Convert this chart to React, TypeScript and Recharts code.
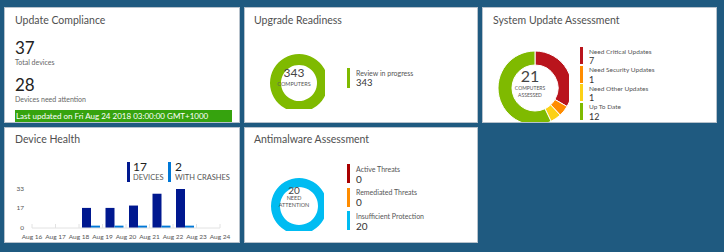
import React from 'react';
import { Bar, BarChart, Cell, Pie, PieChart, XAxis, YAxis } from 'recharts';

// Device Health
const healthDays = ['Aug 16', 'Aug 17', 'Aug 18', 'Aug 19', 'Aug 20', 'Aug 21', 'Aug 22', 'Aug 23'];
const healthEdgeLabel = 'Aug 24';
const devicesByDay = [0, 0, 17, 17, 19, 29, 33, 0];
const crashesByDay = [0, 0, 2, 2, 2, 2, 2, 0];
const healthTicks = [0, 17, 33];
const healthTotals = [17, 2];
const healthTotalLabels = ['DEVICES', 'WITH CRASHES'];

// Upgrade Readiness
const readinessLabels = ['Review in progress'];
const readinessValues = [343];

// System Update Assessment
const updateLabels = ['Need Critical Updates', 'Need Security Updates', 'Need Other Updates', 'Up To Date'];
const updateValues = [7, 1, 1, 12];

// Antimalware Assessment
const malwareLabels = ['Active Threats', 'Remediated Threats', 'Insufficient Protection'];
const malwareValues = [0, 0, 20];

const FONT = "'Segoe UI', Lato, sans-serif";
const BG = '#1f5a80';
const readinessColors = ['#7fba00'];
const updateColors = ['#b9141c', '#ff8c00', '#fcd116', '#7fba00'];
const malwareColors = ['#a80000', '#ff8c00', '#00bcf2'];
const healthColors = ['#00188f', '#0078d7'];

const healthData = healthDays.map((day, i) => ({ day, devices: devicesByDay[i], crashes: crashesByDay[i] }));

const PLOT_W = 188;
const BAND = PLOT_W / healthDays.length;

const Txt = ({ x, y, size, color = '#555', center, weight, children }: any) => (
    <div
        style={{
            position: 'absolute',
            left: center ? x - 60 : x,
            width: center ? 120 : undefined,
            textAlign: center ? 'center' : 'left',
            top: y - size * 0.55,
            fontSize: size,
            lineHeight: 1,
            color,
            fontWeight: weight || 400,
            whiteSpace: 'nowrap',
        }}
    >
        {children}
    </div>
);

const Tile = ({ x, y, w, h }: any) => (
    <div
        style={{
            position: 'absolute',
            left: x,
            top: y,
            width: w,
            height: h,
            background: '#fff',
            border: '1px solid #b7c2cc',
            boxSizing: 'border-box',
        }}
    />
);

const Donut = ({ cx, cy, r, inner, labels, values, colors, stroke }: any) => {
    const data = labels.map((name: string, i: number) => ({ name, value: values[i] }));
    const size = r * 2 + 4;
    return (
        <div style={{ position: 'absolute', left: cx - size / 2, top: cy - size / 2 }}>
            <PieChart width={size} height={size}>
                <Pie
                    data={data}
                    dataKey="value"
                    cx={size / 2}
                    cy={size / 2}
                    innerRadius={inner}
                    outerRadius={r}
                    startAngle={90}
                    endAngle={-270}
                    stroke={stroke}
                    strokeWidth={1}
                    isAnimationActive={false}
                >
                    {data.map((d: any, i: number) => (
                        <Cell key={d.name} fill={colors[i]} />
                    ))}
                </Pie>
            </PieChart>
        </div>
    );
};

const LegendRows = ({ x, top, step, h, labels, values, colors, labelSize, valueSize }: any) => (
    <>
        {labels.map((label: string, i: number) => {
            const t = top + i * step;
            const ly = t + labelSize * 0.8;
            const vy = ly + labelSize * 0.45 + valueSize * 0.6 + 0.5;
            return (
                <React.Fragment key={label}>
                    <div style={{ position: 'absolute', left: x, top: t, width: 3, height: h, background: colors[i] }} />
                    <Txt x={x + 9} y={ly} size={labelSize} color="#555">{label}</Txt>
                    <Txt x={x + 9} y={vy} size={valueSize} color="#333">{values[i]}</Txt>
                </React.Fragment>
            );
        })}
    </>
);

const DayTick = ({ x, y, index }: any) => {
    const left = x - BAND / 2;
    const marks = [{ px: left, label: healthDays[index] }];
    if (index === healthDays.length - 1) marks.push({ px: left + BAND, label: healthEdgeLabel });
    return (
        <g>
            {marks.map((m) => (
                <g key={m.label}>
                    <line x1={m.px} x2={m.px} y1={y} y2={y - 4} stroke="#e2e2e2" />
                    <text x={m.px} y={y + 9} textAnchor="middle" dominantBaseline="middle" fontSize={6.5} fill="#555" fontFamily={FONT}>
                        {m.label}
                    </text>
                </g>
            ))}
        </g>
    );
};

export default function App() {
    return (
        <div style={{ position: 'absolute', left: 0, top: 0, width: 724, height: 252, background: BG, fontFamily: FONT, overflow: 'hidden' }}>
            <Tile x={4} y={7} w={236} h={116} />
            <Tile x={244} y={7} w={234} h={116} />
            <Tile x={482} y={7} w={235} h={116} />
            <Tile x={4} y={127} w={236} h={116} />
            <Tile x={244} y={127} w={234} h={116} />

            {/* Update Compliance */}
            <Txt x={15} y={21} size={10.5} color="#505050">Update Compliance</Txt>
            <Txt x={15} y={48.5} size={17} color="#222">37</Txt>
            <Txt x={15} y={62.5} size={7} color="#666">Total devices</Txt>
            <Txt x={15} y={85.5} size={17} color="#222">28</Txt>
            <Txt x={15} y={99.5} size={7} color="#666">Devices need attention</Txt>
            <div style={{ position: 'absolute', left: 15, top: 110, width: 217, height: 12, background: '#36a30e', color: '#fff', fontSize: 8, lineHeight: '12px', paddingLeft: 1, boxSizing: 'border-box', whiteSpace: 'nowrap' }}>
                Last updated on Fri Aug 24 2018 03:00:00 GMT+1000
            </div>

            {/* Upgrade Readiness */}
            <Txt x={254} y={21} size={10.5} color="#505050">Upgrade Readiness</Txt>
            <Donut cx={294} cy={78} r={29} inner={18} labels={readinessLabels} values={readinessValues} colors={readinessColors} stroke="none" />
            <Txt x={294} y={74} size={12} color="#444" center>{readinessValues[0]}</Txt>
            <Txt x={294} y={85.5} size={5.5} color="#555" center>COMPUTERS</Txt>
            <LegendRows x={347} top={68} step={20} h={20} labels={readinessLabels} values={readinessValues} colors={readinessColors} labelSize={7} valueSize={9.5} />

            {/* System Update Assessment */}
            <Txt x={493} y={21} size={10.5} color="#505050">System Update Assessment</Txt>
            <Donut cx={530} cy={83} r={37} inner={23} labels={updateLabels} values={updateValues} colors={updateColors} stroke="#fff" />
            <Txt x={530} y={77} size={16} color="#444" center>{updateValues.reduce((a, b) => a + b, 0)}</Txt>
            <Txt x={530} y={89} size={5} color="#555" center>COMPUTERS</Txt>
            <Txt x={530} y={96} size={5} color="#555" center>ASSESSED</Txt>
            <LegendRows x={580} top={47} step={18.5} h={17} labels={updateLabels} values={updateValues} colors={updateColors} labelSize={6.5} valueSize={9} />

            {/* Device Health */}
            <Txt x={15} y={140} size={10.5} color="#505050">Device Health</Txt>
            {healthTotals.map((v, i) => (
                <React.Fragment key={healthTotalLabels[i]}>
                    <div style={{ position: 'absolute', left: 127 + i * 41, top: 162, width: 3, height: 20, background: healthColors[i] }} />
                    <Txt x={133 + i * 42} y={168} size={12} color="#222">{v}</Txt>
                    <Txt x={133 + i * 42} y={178} size={7.5} color="#555">{healthTotalLabels[i]}</Txt>
                </React.Fragment>
            ))}
            <div style={{ position: 'absolute', left: 4, top: 177 }}>
                <BarChart width={236} height={66} data={healthData} margin={{ top: 12, right: 20, bottom: 0, left: 0 }} barCategoryGap={3} barGap={0}>
                    <XAxis dataKey="day" interval={0} height={15} tickSize={0} tickMargin={0} tickLine={false} axisLine={{ stroke: '#e2e2e2' }} tick={<DayTick />} />
                    <YAxis width={28} domain={[0, 33]} ticks={healthTicks} axisLine={false} tickLine={false} tick={{ fontSize: 6.5, fill: '#555', fontFamily: FONT }} />
                    <Bar dataKey="devices" fill={healthColors[0]} isAnimationActive={false} />
                    <Bar dataKey="crashes" fill={healthColors[1]} isAnimationActive={false} />
                </BarChart>
            </div>

            {/* Antimalware Assessment */}
            <Txt x={254} y={140} size={10.5} color="#505050">Antimalware Assessment</Txt>
            <Donut cx={294} cy={201} r={28} inner={19} labels={malwareLabels} values={malwareValues} colors={malwareColors} stroke="none" />
            <Txt x={294} y={190} size={10} color="#444" center>{malwareValues.reduce((a, b) => a + b, 0)}</Txt>
            <Txt x={294} y={199} size={5.5} color="#555" center>NEED</Txt>
            <Txt x={294} y={206} size={5.5} color="#555" center>ATTENTION</Txt>
            <LegendRows x={347} top={164} step={23.5} h={19} labels={malwareLabels} values={malwareValues} colors={malwareColors} labelSize={7} valueSize={10} />
        </div>
    );
}
